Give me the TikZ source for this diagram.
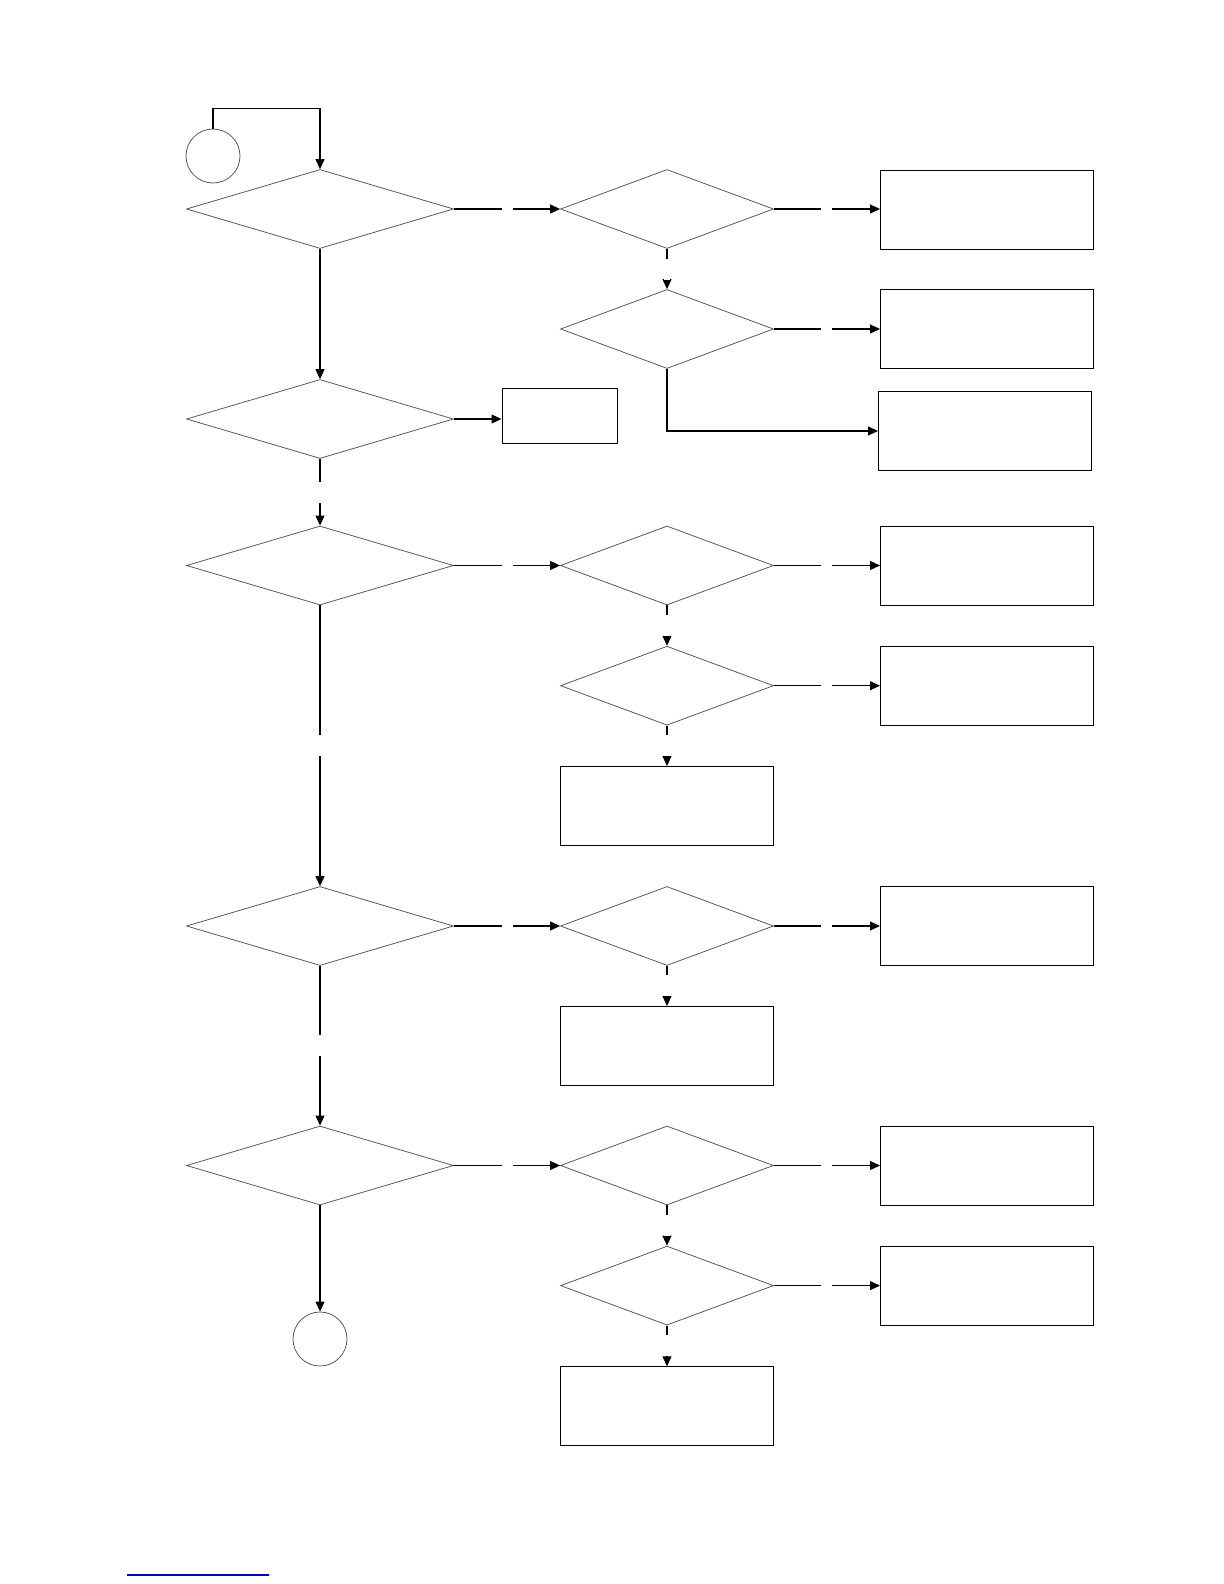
\documentclass[tikz,border=0pt]{standalone}
\usepackage{tikz}
\usetikzlibrary{arrows.meta,shapes.geometric}

\begin{document}
\begin{tikzpicture}[
    x=0.5pt, y=-0.5pt,
    >={Triangle[length=5pt,width=4.5pt]},
    dec/.style={diamond, draw=black!65, line width=0.4pt, inner sep=0pt,
                minimum width=#1, minimum height=39.5pt},
    dec/.default=133.5pt,
    res/.style={draw, line width=0.5pt, inner sep=0pt,
                minimum width=106.5pt, minimum height=39.5pt},
    term/.style={circle, draw=black!65, line width=0.4pt,
                 minimum size=27pt, inner sep=0pt},
    arr/.style={->, line width=0.55pt},
    gaph/.style={fill=white, inner sep=0pt, minimum width=5.5pt, minimum height=3pt},
    gapv/.style={fill=white, inner sep=0pt, minimum width=3pt, minimum height=10.5pt},
  ]
  \useasboundingbox (0,0) rectangle (1224,1584);

  % Main column
  \node[term] (start) at (213,156) {};
  \node[dec] (q1) at (320,209) {};
  \node[dec] (q2) at (320,419) {};
  \node[dec] (q3) at (320,565.5) {};
  \node[dec] (q4) at (320,926) {};
  \node[dec] (q5) at (320,1165.5) {};
  \node[term] (stop) at (320,1339) {};

  % Second column
  \node[dec=106.5pt] (q1a) at (667,209) {};
  \node[dec=106.5pt] (q1b) at (667,329) {};
  \node[res, minimum width=57.5pt, minimum height=27.5pt] (r2) at (559.5,415.5) {};
  \node[dec=106.5pt] (q3a) at (667,565.5) {};
  \node[dec=106.5pt] (q3b) at (667,685.7) {};
  \node[res] (r3c) at (667,806) {};
  \node[dec=106.5pt] (q4a) at (667,926) {};
  \node[res] (r4b) at (667,1046) {};
  \node[dec=106.5pt] (q5a) at (667,1165.5) {};
  \node[dec=106.5pt] (q5b) at (667,1285.6) {};
  \node[res] (r5c) at (667,1406.3) {};

  % Third column
  \node[res] (r1a) at (987,209.5) {};
  \node[res] (r1b) at (987,329.2) {};
  \node[res] (r1c) at (985,431) {};
  \node[res] (r3a) at (987,566) {};
  \node[res] (r3b) at (987,686) {};
  \node[res] (r4a) at (987,926) {};
  \node[res] (r5a) at (987,1166) {};
  \node[res] (r5b) at (987,1286) {};

  % Main flow
  \draw[arr] (start.north) -- ++(0,-20) -| (q1.north);
  \draw[arr] (q1.south) -- (q2.north);
  \draw[arr] (q2.south) -- node[gapv] (g2) {} (q3.north);
  \draw[arr] (q3.south) -- node[gapv] (g3) {} (q4.north);
  \draw[arr] (q4.south) -- node[gapv] (g4) {} (q5.north);
  \draw[arr] (q5.south) -- (stop.north);

  % Branches
  \draw[arr] (q1.east) -- node[gaph] (h1) {} (q1a.west);
  \draw[arr] (q1a.east) -- node[gaph] (h1a) {} (q1a.east -| r1a.west);
  \draw[arr] (q1a.south) -- node[gapv] (v1a) {} (q1b.north);
  \draw[arr] (q1b.east) -- node[gaph] (h1b) {} (q1b.east -| r1b.west);
  \draw[arr] (q1b.south) |- (r1c.west);
  \draw[arr] (q2.east) -- (q2.east -| r2.west);

  \draw[arr] (q3.east) -- node[gaph] (h3) {} (q3a.west);
  \draw[arr] (q3a.east) -- node[gaph] (h3a) {} (q3a.east -| r3a.west);
  \draw[arr] (q3a.south) -- node[gapv] (v3a) {} (q3b.north);
  \draw[arr] (q3b.east) -- node[gaph] (h3b) {} (q3b.east -| r3b.west);
  \draw[arr] (q3b.south) -- node[gapv] (v3b) {} (r3c.north);

  \draw[arr] (q4.east) -- node[gaph] (h4) {} (q4a.west);
  \draw[arr] (q4a.east) -- node[gaph] (h4a) {} (q4a.east -| r4a.west);
  \draw[arr] (q4a.south) -- node[gapv] (v4a) {} (r4b.north);

  \draw[arr] (q5.east) -- node[gaph] (h5) {} (q5a.west);
  \draw[arr] (q5a.east) -- node[gaph] (h5a) {} (q5a.east -| r5a.west);
  \draw[arr] (q5a.south) -- node[gapv] (v5a) {} (q5b.north);
  \draw[arr] (q5b.east) -- node[gaph] (h5b) {} (q5b.east -| r5b.west);
  \draw[arr] (q5b.south) -- node[gapv] (v5b) {} (r5c.north);

  % footer rule
  \draw[blue!75!black, line width=0.6pt] (127,1575) -- (269,1575);
\end{tikzpicture}
\end{document}
